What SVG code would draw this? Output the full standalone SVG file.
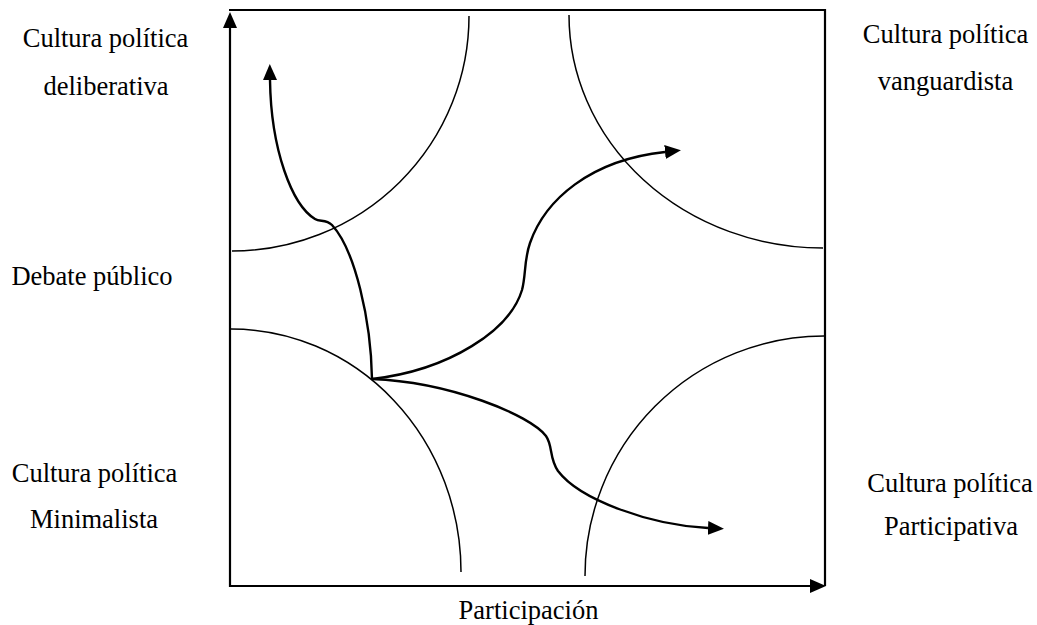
<svg xmlns="http://www.w3.org/2000/svg" width="1037" height="625" viewBox="0 0 1037 625">
<style>
.lbl{font-family:"Liberation Serif","Times New Roman",serif;font-size:26.5px;fill:#000;text-anchor:middle}
.frame{stroke:#000;stroke-width:2.2;fill:none}
.arc{stroke:#000;stroke-width:1.5;fill:none}
.flow{stroke:#000;stroke-width:2.4;fill:none;marker-end:url(#ah)}
</style>
<defs>
<marker id="ah" markerUnits="userSpaceOnUse" viewBox="0 0 16 14" markerWidth="16" markerHeight="14" refX="0" refY="7" orient="auto">
<path d="M0,0 L16,7 L0,14 z" fill="#000"/>
</marker>
</defs>
<g id="axes">
<path class="frame" d="M229,10 L825,10 L825,586"/>
<path class="frame" d="M230,587 L230,28" style="marker-end:url(#ah)"/>
<path class="frame" d="M229,586 L810,586" style="marker-end:url(#ah)"/>
</g>
<g id="zones">
<path id="zone-deliberativa" class="arc" d="M232,251 A237,235 0 0 0 469,16"/>
<path id="zone-vanguardista" class="arc" d="M569,15 A254,233 0 0 0 823,248"/>
<path id="zone-minimalista" class="arc" d="M231,329 A230,243 0 0 1 461,572"/>
<path id="zone-participativa" class="arc" d="M585,576 A239,240 0 0 1 824,336"/>
</g>
<g id="connectors">
<path class="flow" d="M372,379 C371,320 355,250 332,225 C326,219 320,222 315,219 C292,205 271,150 270,80"/>
<path class="flow" d="M372,379 C450,370 510,330 522,290 C526,275 524,260 530,243 C545,200 590,160 665,152"/>
<path class="flow" d="M372,379 C450,382 530,415 546,436 C553,446 549,458 558,471 C580,500 650,525 708,528"/>
</g>
<g id="label-deliberativa">
<text class="lbl" x="105.5" y="47">Cultura política</text>
<text class="lbl" x="106" y="95">deliberativa</text>
</g>
<g id="label-vanguardista">
<text class="lbl" x="945.5" y="43">Cultura política</text>
<text class="lbl" x="945.5" y="90">vanguardista</text>
</g>
<g id="label-debate">
<text class="lbl" x="92" y="285">Debate público</text>
</g>
<g id="label-minimalista">
<text class="lbl" x="94.5" y="482">Cultura política</text>
<text class="lbl" x="94" y="528">Minimalista</text>
</g>
<g id="label-participativa">
<text class="lbl" x="950" y="492">Cultura política</text>
<text class="lbl" x="951" y="535">Participativa</text>
</g>
<g id="label-participacion">
<text class="lbl" x="528.5" y="619">Participación</text>
</g>
</svg>
